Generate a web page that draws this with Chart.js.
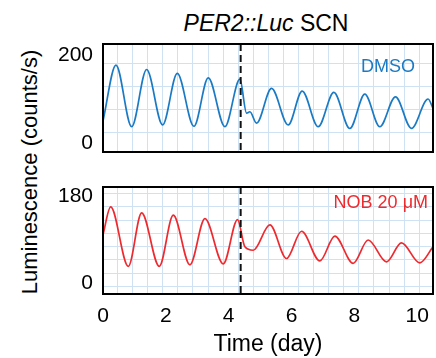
<!DOCTYPE html>
<html><head><meta charset="utf-8">
<script src="https://cdn.jsdelivr.net/npm/chart.js@4"></script>
<style>
html,body{margin:0;padding:0;background:#fff;}
body{width:436px;height:358px;position:relative;overflow:hidden;font-family:'Liberation Sans',Arial,sans-serif;color:#000;}
canvas{position:absolute;left:0;}
#title{position:absolute;left:96px;top:9px;width:340px;text-align:center;font-size:23px;line-height:28px;white-space:nowrap;}
#ytitle{position:absolute;left:-120px;top:157px;width:300px;height:30px;line-height:30px;text-align:center;font-size:22px;white-space:nowrap;transform:rotate(-90deg);}
</style>
</head><body>
<div id="title"><i>PER2::Luc</i> SCN</div>
<div id="ytitle">Luminescence (counts/s)</div>
<canvas id="c1" width="436" height="130" style="top:30px"></canvas>
<canvas id="c2" width="436" height="188" style="top:170px"></canvas>
<script>
// ---- data ----
const xTicks = [0, 2, 4, 6, 8, 10];
const dashDay = 4.38;
const dmsoLabel = 'DMSO';
const nobLabel = 'NOB 20 \u03bcM';
const topYTicks = [0, 200];
const botYTicks = [0, 180];
const dmsoDays = [0, 0.413, 0.912, 1.388, 1.897, 2.363, 2.893, 3.349, 3.879, 4.356, 4.568, 4.674, 4.886, 5.363, 5.893, 6.338, 6.847, 7.345, 7.854, 8.331, 8.808, 9.306, 9.815, 10.344, 10.5];
const dmsoLum  = [50, 177, 37, 167, 41, 158, 38, 148, 37, 145, 68, 71, 45, 124, 41, 118, 37, 115, 33, 111, 37, 105, 33, 100, 79];
const nobDays  = [0, 0.244, 0.805, 1.230, 1.791, 2.236, 2.766, 3.243, 3.826, 4.282, 4.515, 4.780, 5.310, 5.840, 6.317, 6.900, 7.377, 7.960, 8.437, 9.020, 9.497, 10.079, 10.5];
const nobLum   = [100, 157, 35, 145, 35, 140, 38, 133, 40, 131, 75, 68, 120, 51, 107, 46, 97, 41, 89, 44, 83, 42, 75];
const topGridY = [23, 75, 128, 181];
const botGridY = [-7, 20.5, 48, 75, 102.5, 130, 157.5, 185];

// ---- styling / layout ----
const FONT = "'Liberation Sans', Arial, sans-serif";
const xMin = 0, xMax = 10.5;
const gridColor = '#cfe2f3';
const xGridDays = [];
for (let v = 0.461; v < xMax; v += 0.48) xGridDays.push(v);

const panelPlugin = {
  id: 'panelPlugin',
  afterDatasetsDraw(chart, args, opts) {
    const {ctx, chartArea: a, scales} = chart;
    const x = scales.x.getPixelForValue(opts.dashDay);
    ctx.save();
    ctx.strokeStyle = '#111'; ctx.lineWidth = 2; ctx.setLineDash([7, 4]);
    ctx.beginPath(); ctx.moveTo(x, a.top); ctx.lineTo(x, a.bottom); ctx.stroke();
    ctx.setLineDash([]);
    ctx.font = '18px ' + FONT;
    ctx.fillStyle = opts.labelColor; ctx.textAlign = 'right'; ctx.textBaseline = 'middle';
    ctx.fillText(opts.label, a.right - opts.labelDx, a.top + opts.labelDy);
    ctx.lineWidth = 2; ctx.strokeStyle = '#000';
    ctx.strokeRect(a.left, a.top, a.right - a.left, a.bottom - a.top);
    ctx.restore();
  }
};

function makeChart(id, days, lum, color, yMin, yMax, yTicks, gridY, showX, padTop, padBottom, label, labelDx, labelDy) {
  const pts = days.map((d, i) => ({x: d, y: lum[i]}));
  return new Chart(document.getElementById(id), {
    type: 'line',
    data: {datasets: [{data: pts, borderColor: color, borderWidth: 1.7, pointRadius: 0,
      cubicInterpolationMode: 'monotone', fill: false}]},
    plugins: [panelPlugin],
    options: {
      responsive: false, animation: false, devicePixelRatio: 1,
      layout: {padding: {top: padTop, bottom: padBottom, left: 0, right: 3}},
      plugins: {legend: {display: false}, tooltip: {enabled: false},
        panelPlugin: {dashDay: dashDay, label: label, labelColor: color, labelDx: labelDx, labelDy: labelDy}},
      scales: {
        x: {type: 'linear', position: 'bottom', min: xMin, max: xMax,
          afterBuildTicks: s => { s.ticks = xTicks.map(v => ({value: v})); },
          afterFit: s => { s.height = showX ? 64 : 0; s.paddingLeft = 0; s.paddingRight = 0; },
          grid: {display: false, drawTicks: false}, border: {display: false},
          ticks: {display: showX, color: '#000', padding: 10, font: {size: 21, family: FONT}, maxRotation: 0},
          title: {display: showX, text: 'Time (day)', color: '#000', font: {size: 23, family: FONT}, padding: {top: 0, bottom: 0}}},
        xg: {type: 'linear', position: 'bottom', min: xMin, max: xMax,
          afterBuildTicks: s => { s.ticks = xGridDays.map(v => ({value: v})); },
          afterFit: s => { s.height = 0; s.paddingLeft = 0; s.paddingRight = 0; },
          grid: {color: gridColor, lineWidth: 1, drawTicks: false}, border: {display: false},
          ticks: {display: false}},
        y: {type: 'linear', position: 'left', min: yMin, max: yMax,
          afterBuildTicks: s => { s.ticks = yTicks.map(v => ({value: v})); },
          afterFit: s => { s.width = 103; s.paddingTop = 0; s.paddingBottom = 0; },
          grid: {display: false, drawTicks: false}, border: {display: false},
          ticks: {color: '#000', padding: 10, font: {size: 21, family: FONT}}},
        yg: {type: 'linear', position: 'left', min: yMin, max: yMax,
          afterBuildTicks: s => { s.ticks = gridY.map(v => ({value: v})); },
          afterFit: s => { s.width = 0; s.paddingTop = 0; s.paddingBottom = 0; },
          grid: {color: gridColor, lineWidth: 1, drawTicks: false}, border: {display: false},
          ticks: {display: false}}
      }
    }
  });
}

makeChart('c1', dmsoDays, dmsoLum, '#1a7ac4', -20.5, 225, topYTicks, topGridY, false, 14, 8, dmsoLabel, 18, 23);
makeChart('c2', nobDays, nobLum, '#ee2a2f', -22, 198, botYTicks, botGridY, true, 17, 0, nobLabel, 5, 16);
</script>
</body></html>
